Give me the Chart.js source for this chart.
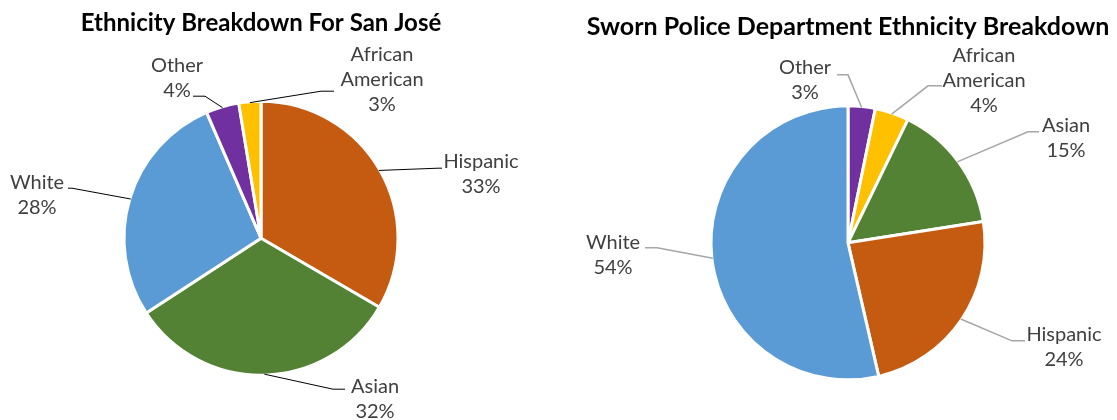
<!DOCTYPE html>
<html>
<head>
<meta charset="utf-8">
<script src="https://cdn.jsdelivr.net/npm/chart.js@4"></script>
<style>
  html, body { margin: 0; padding: 0; background: #fff; }
  body { width: 1117px; height: 420px; position: relative; overflow: hidden; }
  canvas { position: absolute; top: 0; }
</style>
</head>
<body>
<canvas id="left" width="522" height="420" style="left:0px"></canvas>
<canvas id="right" width="536" height="420" style="left:580px"></canvas>
<script>
// ---- Data ----
const cityTitle = 'Ethnicity Breakdown For San José';
const cityCategories = ['Hispanic', 'Asian', 'White', 'Other', 'African American'];
const cityValues = [33.4, 32.4, 27.7, 3.9, 2.6];

const policeTitle = 'Sworn Police Department Ethnicity Breakdown';
const policeCategories = ['Other', 'African American', 'Asian', 'Hispanic', 'White'];
const policeValues = [3.2, 4.0, 15.3, 23.9, 53.6];

const colorByCategory = {
  'Hispanic': '#C55A11',
  'Asian': '#548235',
  'White': '#5B9BD5',
  'Other': '#7030A0',
  'African American': '#FFC000'
};

// label layout (text block center, leader elbow and attach point), relative to pie center
const cityLabelLayout = [
  { dx: 220, dy: -64.5, ex: 177, ey: -70, ax: 181, ay: -70, lines: ['Hispanic'] },
  { dx: 114, dy: 161, ex: 72, ey: 151, ax: 84, ay: 151, lines: ['Asian'] },
  { dx: -224, dy: -43, ex: -189, ey: -50, ax: -193, ay: -50, lines: ['White'] },
  { dx: -84, dy: -160.5, ex: -56, ey: -142, ax: -68, ay: -142, lines: ['Other'] },
  { dx: 121, dy: -159, ex: 60, ey: -147, ax: 73, ay: -147, lines: ['African', 'American'] }
];
const policeLabelLayout = [
  { dx: -43, dy: -162.5, ex: 0, ey: -168, ax: -11, ay: -168, lines: ['Other'] },
  { dx: 136, dy: -162, ex: 80, ey: -157, ax: 94, ay: -157, lines: ['African', 'American'] },
  { dx: 218, dy: -104.5, ex: 180, ey: -111, ax: 191, ay: -111, lines: ['Asian'] },
  { dx: 216, dy: 104, ex: 164, ey: 98, ax: 177, ay: 98, lines: ['Hispanic'] },
  { dx: -235, dy: 12.5, ex: -191, ey: 5, ax: -203, ay: 5, lines: ['White'] }
];

const LABEL_FONT = '20px Lato';
const LABEL_COLOR = '#404040';
const LINE_H = 25;

const outerLabelsPlugin = {
  id: 'outerLabels',
  afterDatasetsDraw(chart, args, opts) {
    const ctx = chart.ctx;
    const meta = chart.getDatasetMeta(0);
    const values = chart.data.datasets[0].data;
    ctx.save();
    meta.data.forEach((arc, i) => {
      const lay = opts.layout[i];
      const p = arc.getProps(['x', 'y', 'startAngle', 'endAngle', 'outerRadius'], true);
      const mid = (p.startAngle + p.endAngle) / 2;
      const r = p.outerRadius - 1;
      const sx = p.x + Math.cos(mid) * r;
      const sy = p.y + Math.sin(mid) * r;
      ctx.beginPath();
      ctx.strokeStyle = opts.lineColor;
      ctx.lineWidth = opts.lineWidth;
      ctx.moveTo(sx, sy);
      ctx.lineTo(p.x + lay.ex, p.y + lay.ey);
      ctx.lineTo(p.x + lay.ax, p.y + lay.ay);
      ctx.stroke();
      const lines = lay.lines.concat([Math.round(values[i]) + '%']);
      ctx.fillStyle = LABEL_COLOR;
      ctx.font = LABEL_FONT;
      ctx.textAlign = 'center';
      ctx.textBaseline = 'middle';
      const cx = p.x + lay.dx;
      const top = p.y + lay.dy - (lines.length - 1) * LINE_H / 2;
      lines.forEach((t, k) => ctx.fillText(t, cx, top + k * LINE_H));
    });
    ctx.restore();
  }
};

function makePie(id, title, cats, vals, layout, titleSize, titleTop, titleBottom, lineColor, lineWidth) {
  return new Chart(document.getElementById(id), {
    type: 'pie',
    data: {
      labels: cats,
      datasets: [{
        data: vals,
        backgroundColor: cats.map(c => colorByCategory[c]),
        borderColor: '#ffffff',
        borderWidth: 3,
        radius: 137
      }]
    },
    options: {
      responsive: false,
      animation: false,
      devicePixelRatio: 1,
      layout: { padding: 0 },
      plugins: {
        legend: { display: false },
        tooltip: { enabled: false },
        title: {
          display: true,
          text: title,
          color: '#000000',
          font: { family: 'Lato', size: titleSize, weight: 'bold', lineHeight: 1.2 },
          padding: { top: titleTop, bottom: titleBottom }
        },
        outerLabels: { layout: layout, lineColor: lineColor, lineWidth: lineWidth }
      }
    },
    plugins: [outerLabelsPlugin]
  });
}

makePie('left', cityTitle, cityCategories, cityValues, cityLabelLayout, 24, 8.6, 19, '#000000', 1);
makePie('right', policeTitle, policeCategories, policeValues, policeLabelLayout, 25, 11.5, 24.2, '#A6A6A6', 1.5);
</script>
</body>
</html>
